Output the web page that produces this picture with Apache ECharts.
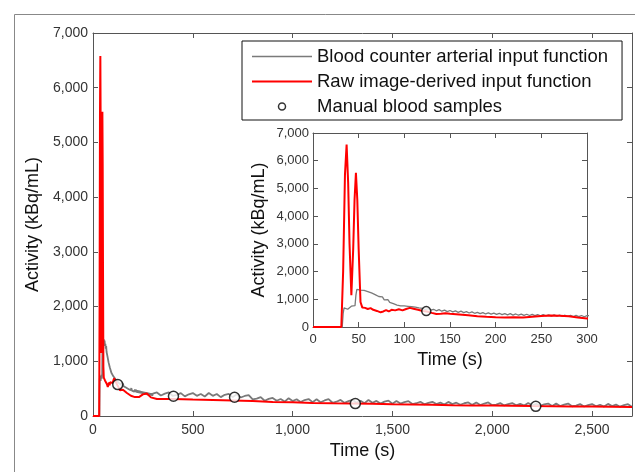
<!DOCTYPE html>
<html>
<head>
<meta charset="utf-8">
<script src="https://cdn.jsdelivr.net/npm/echarts@6/dist/echarts.min.js"></script>
<style>
  html, body { margin: 0; padding: 0; background: #fff; }
  #chart { width: 635px; height: 472px; }
</style>
</head>
<body>
<div id="chart"></div>
<script>
// blood counter (grey) - time in s, activity in kBq/mL
var bloodTime = [0, 32, 33, 34, 36, 38, 40, 42, 44, 46, 47, 48, 50, 52, 54, 56, 58, 60, 62, 64, 66, 68, 70, 72, 74, 76, 78, 80,
  82, 84, 86, 88, 90, 92, 94, 96, 98, 100, 102, 104, 106, 108, 110, 112, 114, 116, 118, 120, 123, 126, 129, 132, 135, 138,
  141, 144, 147, 150, 153, 156, 159, 162, 165, 168, 171, 174, 177, 180, 183, 186, 189, 192, 195, 198, 201, 204, 207, 210,
  213, 216, 219, 222, 225, 228, 231, 234, 237, 240, 243, 246, 249, 252, 255, 258, 261, 264, 267, 270, 273, 276, 279, 282,
  285, 288, 291, 294, 297, 300, 320, 340, 360, 380, 400, 420, 440, 460, 480, 500, 520, 540, 560, 580, 600, 620, 640, 660,
  680, 700, 720, 740, 760, 780, 800, 820, 840, 860, 880, 900, 920, 940, 960, 980, 1000, 1020, 1040, 1060, 1080, 1100, 1120,
  1140, 1160, 1180, 1200, 1220, 1240, 1260, 1280, 1300, 1320, 1340, 1360, 1380, 1400, 1420, 1440, 1460, 1480, 1500, 1520,
  1540, 1560, 1580, 1600, 1620, 1640, 1660, 1680, 1700, 1720, 1740, 1760, 1780, 1800, 1820, 1840, 1860, 1880, 1900, 1920,
  1940, 1960, 1980, 2000, 2020, 2040, 2060, 2080, 2100, 2120, 2140, 2160, 2180, 2200, 2220, 2240, 2260, 2280, 2300, 2320,
  2340, 2360, 2380, 2400, 2420, 2440, 2460, 2480, 2500, 2520, 2540, 2560, 2580, 2600, 2620, 2640, 2660, 2680, 2700];
var bloodActivity = [0, 0, 480, 690, 730, 640, 710, 750, 680, 770, 1150, 1360, 1420, 1330, 1400, 1320, 1380, 1280, 1320, 1230, 1280, 1170, 1160, 1100, 1070, 1090, 980, 970,
  990, 890, 890, 840, 870, 790, 800, 760, 810, 760, 725, 745, 700, 730, 685, 715, 660, 690, 645, 675, 630, 665, 605, 640, 585, 625,
  570, 610, 555, 595, 545, 580, 530, 570, 520, 555, 505, 545, 495, 530, 480, 520, 470, 510, 465, 500, 455, 495, 445, 485,
  440, 480, 430, 470, 425, 465, 420, 460, 415, 455, 410, 450, 405, 445, 400, 440, 395, 435, 390, 430, 385, 425, 380, 420,
  378, 418, 372, 415, 370, 410, 430, 374, 408, 432, 366, 385, 419, 358, 397, 420, 369, 403, 357, 421, 369, 402, 345, 387,
  404, 345, 397, 338, 366, 383, 305, 318, 346, 279, 312, 330, 278, 310, 263, 325, 273, 306, 255, 292, 310, 253, 307,
  251, 284, 308, 242, 261, 294, 240, 271, 295, 243, 277, 234, 294, 242, 276, 228, 263, 281, 225, 273,
  227, 254, 272, 219, 233, 260, 214, 241, 260, 218, 245, 210, 258, 217, 243, 205, 233, 248, 203, 246,
  201, 228, 247, 198, 209, 236, 193, 218, 237, 196, 223, 190, 237, 196, 223, 186, 213, 228, 183, 226,
  181, 208, 227, 178, 190, 217, 174, 199, 219, 178, 206, 172, 221, 180, 208, 170, 199, 215, 170];

// raw image-derived input function (red)
var idifTime = [0, 31, 33, 35, 36.8, 38.5, 40, 42, 44, 45.5, 47, 48.5, 50, 52, 54, 57, 60, 63, 66, 70, 74, 77, 80, 83, 86, 90,
  94, 98, 102, 106, 110, 115, 120, 125, 130, 135, 140, 145, 150, 160, 170, 180, 190, 200, 210, 220, 230, 240, 250, 260,
  270, 280, 290, 300, 320, 350, 400, 450, 500, 600, 700, 800, 900, 1000, 1100, 1200, 1300, 1400, 1500, 1600, 1700, 1800,
  1900, 2000, 2100, 2200, 2300, 2400, 2500, 2600, 2700];
var idifActivity = [0, 0, 2000, 5500, 6580, 5200, 3000, 1150, 2800, 4600, 5560, 4600, 2800, 900, 700, 690, 650, 680, 620, 580, 530, 560, 610, 560, 620, 600,
  640, 600, 650, 690, 660, 620, 580, 560, 510, 470, 480, 500, 480, 450, 420, 390, 370, 355, 345, 350, 345, 370, 395, 415,
  410, 385, 340, 310, 310, 310, 310, 305, 300, 292, 285, 275, 258, 250, 238, 232, 228, 222, 215, 210, 204, 198,
  194, 190, 186, 181, 178, 175, 172, 169, 165];

// manual blood samples
var sampleTime = [124, 403, 709, 1314, 2218];
var sampleActivity = [574, 360, 342, 227, 177];

var mainXTicks = { min: 0, max: 2700, interval: 500 };
var insetXTicks = { min: 0, max: 300, interval: 50 };
var yTicks = { min: 0, max: 7000, interval: 1000 };

var FONT = 'Liberation Sans, Arial, sans-serif';
var AXIS_COLOR = '#555';
var GREY = '#7a7a7a';
var RED = '#ff0000';

function zip(xs, ys) {
  return xs.map(function (x, i) { return [x, ys[i]]; });
}
var bloodData = zip(bloodTime, bloodActivity);
var idifData = zip(idifTime, idifActivity);
var sampleData = zip(sampleTime, sampleActivity);

function fmt(v) { return v.toLocaleString('en-US'); }

function valueAxis(opts) {
  var a = {
    type: 'value',
    gridIndex: opts.grid,
    position: opts.position,
    min: opts.ticks.min,
    max: opts.ticks.max,
    interval: opts.ticks.interval,
    splitLine: { show: false },
    axisLine: { show: true, onZero: false, lineStyle: { color: AXIS_COLOR, width: 1 } },
    axisTick: { show: true, inside: true, length: 5, lineStyle: { color: AXIS_COLOR } },
    axisLabel: {
      show: !!opts.labels,
      fontFamily: FONT,
      fontSize: opts.fontSize || 14,
      color: '#333',
      margin: opts.margin || 6,
      showMaxLabel: opts.showMax !== false,
      formatter: fmt
    }
  };
  if (opts.name) {
    a.name = opts.name;
    a.nameLocation = 'middle';
    a.nameGap = opts.nameGap;
    a.nameTextStyle = { fontFamily: FONT, fontSize: 18, color: '#111' };
  }
  return a;
}

var chart = echarts.init(document.getElementById('chart'));

var option = {
  animation: false,
  backgroundColor: '#fff',
  grid: [
    { left: 93, top: 33, width: 539, height: 383 },
    { left: 313, top: 133, width: 274, height: 194 }
  ],
  xAxis: [
    valueAxis({ grid: 0, position: 'bottom', ticks: mainXTicks, labels: true, showMax: false, margin: 7, name: 'Time (s)', nameGap: 25 }),
    valueAxis({ grid: 0, position: 'top', ticks: mainXTicks }),
    valueAxis({ grid: 1, position: 'bottom', ticks: insetXTicks, labels: true, fontSize: 13, margin: 6, name: 'Time (s)', nameGap: 24 }),
    valueAxis({ grid: 1, position: 'top', ticks: insetXTicks })
  ],
  yAxis: [
    valueAxis({ grid: 0, position: 'left', ticks: yTicks, labels: true, margin: 5, name: 'Activity (kBq/mL)', nameGap: 46 }),
    valueAxis({ grid: 0, position: 'right', ticks: yTicks }),
    valueAxis({ grid: 1, position: 'left', ticks: yTicks, labels: true, fontSize: 13, margin: 4, name: 'Activity (kBq/mL)', nameGap: 45 }),
    valueAxis({ grid: 1, position: 'right', ticks: yTicks })
  ],
  legend: {
    orient: 'vertical',
    left: 242,
    top: 41,
    padding: [6, 14, 4, 10],
    itemWidth: 60,
    itemHeight: 7,
    itemGap: 6,
    backgroundColor: '#fff',
    borderColor: '#111',
    borderWidth: 1,
    borderRadius: 0,
    textStyle: { fontFamily: FONT, fontSize: 18.5, color: '#111', lineHeight: 18 },
    data: [
      { name: 'Blood counter arterial input function', icon: 'path://M0,0h40v1h-40z', itemStyle: { color: GREY, borderWidth: 0 } },
      { name: 'Raw image-derived input function', icon: 'path://M0,0h30v1h-30z', itemStyle: { color: RED, borderWidth: 0 } },
      { name: 'Manual blood samples', icon: 'circle', itemStyle: { color: '#fff', borderColor: '#000', borderWidth: 1.5 } }
    ]
  },
  graphic: [{
    type: 'rect',
    left: 12, top: 12,
    shape: { width: 700, height: 520 },
    style: { fill: null, stroke: '#888', lineWidth: 1 },
    silent: true,
    z: -10
  }],
  series: [
    {
      name: 'Blood counter arterial input function',
      type: 'line', xAxisIndex: 0, yAxisIndex: 0,
      data: bloodData, symbol: 'none',
      lineStyle: { color: GREY, width: 1.8 },
      itemStyle: { color: GREY }
    },
    {
      name: 'Raw image-derived input function',
      type: 'line', xAxisIndex: 0, yAxisIndex: 0,
      data: idifData, symbol: 'none',
      lineStyle: { color: RED, width: 2 },
      itemStyle: { color: RED }
    },
    {
      name: 'Manual blood samples',
      type: 'scatter', xAxisIndex: 0, yAxisIndex: 0,
      data: sampleData, symbol: 'circle', symbolSize: 10,
      itemStyle: { color: '#fff', borderColor: '#000', borderWidth: 1.5 },
      z: 5
    },
    {
      name: 'Blood counter arterial input function',
      type: 'line', xAxisIndex: 2, yAxisIndex: 2,
      data: bloodData, symbol: 'none', clip: true,
      lineStyle: { color: GREY, width: 1.3 },
      itemStyle: { color: GREY }
    },
    {
      name: 'Raw image-derived input function',
      type: 'line', xAxisIndex: 2, yAxisIndex: 2,
      data: idifData, symbol: 'none', clip: true,
      lineStyle: { color: RED, width: 2 },
      itemStyle: { color: RED }
    },
    {
      name: 'Manual blood samples',
      type: 'scatter', xAxisIndex: 2, yAxisIndex: 2,
      data: sampleData, symbol: 'circle', symbolSize: 9, clip: true,
      itemStyle: { color: '#fff', borderColor: '#000', borderWidth: 1.5 },
      z: 5
    }
  ]
};

chart.setOption(option);
</script>
</body>
</html>
